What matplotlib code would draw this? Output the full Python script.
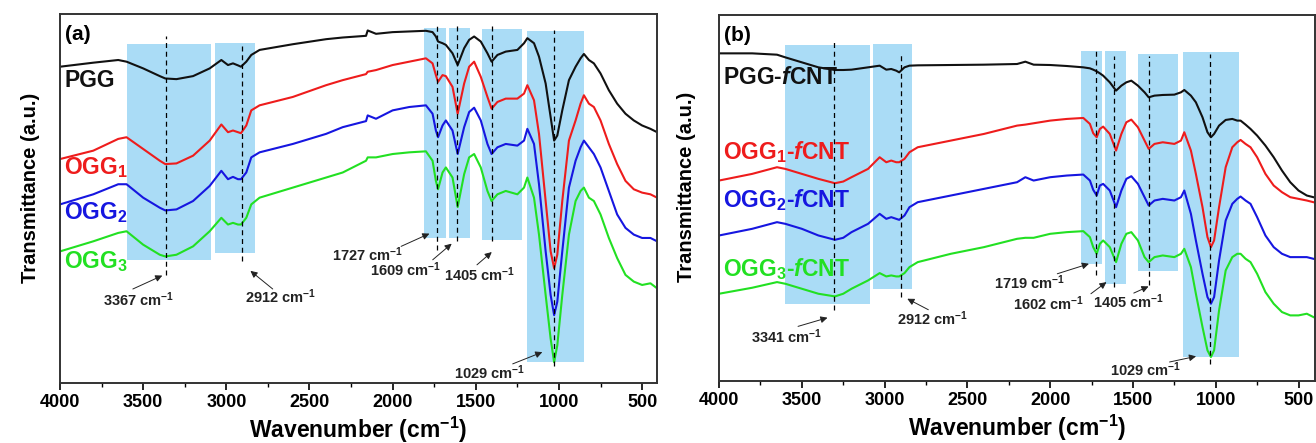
import numpy as np
import matplotlib
matplotlib.use("Agg")
import matplotlib.pyplot as plt
from matplotlib import ticker

plt.rcParams["font.family"] = ["Liberation Sans", "DejaVu Sans"]
plt.rcParams["font.weight"] = "bold"
plt.rcParams["mathtext.fontset"] = "custom"
plt.rcParams["mathtext.rm"] = "Liberation Sans:bold"
plt.rcParams["mathtext.bf"] = "Liberation Sans:bold"
plt.rcParams["mathtext.it"] = "Liberation Sans:italic:bold"

###############################################################################
# Panel (a): PGG and OGG1-3, wavenumber (cm-1) vs transmittance (a.u.)

wn_a = [4000, 3800, 3650, 3600, 3500, 3400, 3367, 3300, 3200, 3100, 3030, 2990,
        2960, 2930, 2912, 2880, 2850, 2800, 2600, 2400, 2300, 2160, 2150, 2100,
        2000, 1900, 1800, 1760, 1740, 1727, 1700, 1680, 1640, 1609, 1570, 1540,
        1510, 1470, 1430, 1405, 1370, 1320, 1250, 1210, 1190, 1150, 1120, 1080,
        1050, 1029, 1010, 980, 940, 900, 870, 850, 820, 790, 750, 700, 650, 600,
        550, 500, 450, 410]

pgg = [95.0, 96.2, 97.0, 96.5, 94.5, 92.2, 91.5, 91.3, 92.2, 94.5, 97.0, 95.5,
       96.0, 95.4, 95.0, 96.5, 98.5, 100.0, 101.7, 103.2, 103.7, 104.2, 105.8,
       104.8, 105.3, 105.5, 105.7, 105.3, 104.0, 102.5, 102.0, 101.5, 99.0, 95.5,
       100.5, 103.0, 104.0, 102.5, 99.0, 96.5, 98.5, 99.5, 100.0, 102.0, 103.5,
       102.0, 98.0, 90.0, 80.0, 73.0, 74.5, 82.0, 91.0, 95.0, 97.5, 98.8, 97.0,
       96.0, 93.0, 88.0, 84.0, 81.0, 79.0, 77.5, 76.5, 75.5]
ogg1 = [67.5, 70.0, 73.5, 74.0, 70.5, 67.0, 66.0, 66.2, 68.5, 73.0, 77.8, 75.5,
        76.0, 75.5, 75.2, 77.5, 82.0, 83.5, 86.0, 89.5, 91.0, 92.8, 93.5, 94.0,
        95.5, 96.5, 97.5, 96.0, 92.5, 90.5, 92.5, 92.2, 89.0, 81.0, 90.0, 95.0,
        96.5, 92.0, 86.0, 82.5, 84.5, 85.5, 85.5, 87.0, 89.5, 85.0, 75.0, 55.0,
        40.0, 35.0, 39.0, 55.0, 73.0, 79.0, 84.0, 86.5, 84.0, 83.0, 79.0, 72.0,
        66.0, 61.0, 58.5, 57.5, 57.0, 56.0]
ogg2 = [54.0, 57.0, 60.0, 60.0, 56.0, 53.0, 52.2, 52.5, 55.0, 59.5, 64.0, 61.5,
        62.2, 61.5, 61.5, 63.5, 68.0, 69.5, 72.0, 75.0, 77.0, 78.8, 80.5, 79.5,
        82.0, 83.0, 83.5, 81.0, 76.0, 74.0, 77.5, 79.0, 76.0, 69.0, 77.0, 81.5,
        82.8, 79.0, 72.0, 69.0, 71.0, 72.0, 71.5, 73.0, 76.5, 72.0, 60.0, 40.0,
        27.0, 21.0, 25.0, 40.0, 59.0, 67.0, 71.0, 73.0, 71.0, 69.0, 65.0, 58.0,
        51.0, 47.0, 45.0, 44.0, 44.0, 43.0]
ogg3 = [40.0, 43.0, 45.5, 46.0, 42.0, 39.0, 38.5, 39.0, 41.5, 46.0, 50.0, 48.0,
        48.5, 48.0, 48.0, 50.0, 54.0, 56.0, 59.0, 62.0, 63.5, 67.0, 68.0, 68.0,
        69.0, 69.5, 69.8, 67.0, 61.0, 58.5, 63.5, 65.0, 62.0, 53.2, 63.0, 68.0,
        69.0, 65.0, 58.0, 55.0, 57.0, 58.0, 57.0, 59.0, 62.0, 56.0, 45.0, 27.0,
        14.0, 7.0, 12.0, 27.0, 45.0, 55.0, 58.0, 59.0, 56.0, 55.0, 51.0, 44.0,
        38.0, 33.0, 31.0, 30.0, 30.5, 29.0]

# shaded bands: (high wn, low wn, bottom, top)
bands_a = [(3600, 3090, 37.5, 101.7), (3068, 2830, 39.5, 102.0),
           (1810, 1678, 44.0, 106.5), (1663, 1536, 44.0, 106.5),
           (1463, 1222, 43.5, 106.2), (1194, 847, 7.2, 105.7)]
# dashed marker lines: (wn, bottom, top)
marks_a = [(3362, 33.0, 104.0), (2903, 37.0, 102.0), (1732, 40.5, 107.5),
           (1612, 43.0, 107.5), (1405, 43.0, 107.0), (1029, 6.0, 106.0)]
# peak labels: text, text pos, arrow tail, arrow head
peaks_a = [("3367", (3530, 25.5), (3562, 28.8), (3385, 32.8)),
           ("2912", (2671, 26.5), (2721, 28.8), (2855, 34.2)),
           ("1727", (2150, 39.0), (1949, 41.5), (1779, 45.3)),
           ("1609", (1923, 34.5), (1759, 37.5), (1645, 42.3)),
           ("1405", (1480, 33.0), (1493, 36.0), (1404, 39.8)),
           ("1029", (1417, 4.0), (1278, 6.5), (1100, 10.0))]
names_a = ["PGG", "OGG$_1$", "OGG$_2$", "OGG$_3$"]
name_y_a = [91.0, 65.0, 51.5, 37.0]

###############################################################################
# Panel (b): the fCNT composites

wn_b = [4000, 3800, 3650, 3600, 3500, 3400, 3300, 3250, 3200, 3100, 3030, 2990,
        2960, 2930, 2912, 2880, 2850, 2800, 2600, 2400, 2200, 2150, 2100, 2000,
        1900, 1800, 1760, 1740, 1719, 1700, 1680, 1640, 1602, 1570, 1540, 1510,
        1470, 1430, 1405, 1370, 1320, 1250, 1210, 1190, 1150, 1120, 1080, 1050,
        1029, 1010, 980, 940, 900, 870, 850, 820, 790, 750, 700, 650, 600, 550,
        500, 450, 410]

pgg_f = [99.2, 99.2, 98.8, 98.0, 96.5, 95.0, 94.2, 94.2, 94.3, 95.0, 95.5, 94.3,
         94.5, 94.0, 93.5, 95.0, 95.5, 95.6, 95.7, 95.8, 96.0, 96.7, 95.8, 95.7,
         95.4, 95.0, 94.7, 94.3, 93.8, 93.2, 92.5, 90.5, 88.0, 89.5, 90.5, 91.0,
         89.5, 87.5, 86.0, 86.5, 86.7, 86.8, 87.5, 88.2, 86.5, 84.5, 80.0, 75.5,
         74.0, 75.0, 77.5, 79.2, 79.5, 79.0, 79.0, 77.8, 76.5, 74.5, 71.5, 68.0,
         64.0, 60.5, 58.0, 56.5, 56.0]
ogg1_f = [61.0, 63.0, 65.0, 64.5, 63.0, 61.5, 60.2, 60.7, 62.0, 64.5, 68.0, 66.5,
          67.0, 66.5, 66.5, 67.5, 69.5, 71.0, 73.0, 75.0, 77.5, 77.8, 78.2, 79.0,
          79.5, 79.8, 78.0, 75.2, 74.0, 76.5, 77.2, 75.0, 70.0, 75.0, 78.5, 79.3,
          77.0, 73.0, 70.5, 72.0, 72.5, 72.0, 73.0, 75.5, 70.0, 63.0, 53.0, 44.0,
          41.0, 43.0, 53.0, 65.0, 71.0, 72.5, 73.2, 72.0, 71.0, 68.0, 63.0, 59.5,
          57.5, 56.0, 55.5, 55.0, 54.5]
ogg2_f = [44.5, 46.5, 48.5, 48.0, 46.5, 44.5, 43.2, 43.8, 45.5, 48.0, 51.0, 49.5,
          50.0, 49.5, 49.2, 50.5, 53.0, 54.5, 56.5, 58.5, 60.5, 62.0, 61.0, 62.0,
          62.5, 62.8, 61.0, 58.2, 56.5, 59.5, 60.0, 58.0, 53.0, 58.0, 61.5, 62.3,
          60.0, 56.0, 53.5, 55.0, 55.5, 55.0, 56.0, 58.0, 51.0, 43.0, 33.0, 26.0,
          24.0, 26.0, 37.0, 49.0, 54.0, 55.5, 56.2, 55.0, 54.0, 50.0, 44.5, 41.0,
          39.0, 38.0, 38.0, 38.0, 37.5]
ogg3_f = [27.0, 28.8, 30.5, 30.0, 28.5, 27.0, 26.2, 27.0, 28.5, 31.0, 33.2, 32.2,
          32.5, 32.2, 32.2, 33.2, 35.0, 36.5, 39.0, 41.0, 43.5, 43.8, 43.8, 45.0,
          45.5, 45.8, 44.0, 41.0, 39.0, 42.0, 43.0, 41.0, 36.5, 42.0, 45.0, 45.5,
          43.0, 38.0, 36.5, 38.0, 38.5, 38.0, 39.0, 40.5, 35.0, 27.0, 17.0, 10.0,
          8.0, 10.0, 22.0, 34.0, 38.0, 39.0, 39.0, 37.5, 36.5, 33.0, 27.5, 24.0,
          21.5, 20.5, 20.5, 21.0, 20.0]

bands_b = [(3604, 3091, 23.8, 101.7), (3071, 2832, 28.5, 102.0),
           (1812, 1685, 36.0, 100.0), (1670, 1543, 29.8, 99.8),
           (1470, 1228, 33.7, 99.0), (1200, 858, 8.0, 99.5)]
marks_b = [(3305, 22.0, 103.0), (2901, 26.0, 99.5), (1726, 32.5, 100.2),
           (1614, 29.0, 98.5), (1404, 29.5, 98.5), (1036, 6.0, 99.0)]
peaks_b = [("3341", (3589, 14.0), (3523, 17.2), (3345, 19.8)),
           ("2912", (2713, 19.5), (2736, 22.2), (2863, 25.5)),
           ("1719", (2122, 30.2), (1957, 33.0), (1766, 36.0)),
           ("1602", (2008, 24.0), (1754, 27.0), (1660, 30.5)),
           ("1405", (1525, 24.5), (1495, 27.2), (1406, 29.2)),
           ("1029", (1424, 4.2), (1279, 6.5), (1119, 8.2))]
names_b = ["PGG-$\\mathit{f}$CNT", "OGG$_1$-$\\mathit{f}$CNT",
           "OGG$_2$-$\\mathit{f}$CNT", "OGG$_3$-$\\mathit{f}$CNT"]
name_y_b = [91.8, 69.5, 55.0, 34.5]

colors = ["#111111", "#ee1c1c", "#1616e0", "#22e022"]
band_color = "#aadcf6"

fig = plt.figure(figsize=(13.16, 4.43), dpi=100)
ax_a = fig.add_axes([0.0456, 0.1354, 0.4537, 0.833])
ax_b = fig.add_axes([0.5464, 0.140, 0.4529, 0.826])


def draw_panel(ax, wn, curves, bands, marks, peaks, names, name_y, tag, xmin,
               ylabel_x):
    for hi, lo, bot, top in bands:
        ax.fill_between([lo, hi], bot, top, color=band_color, lw=0, zorder=0)
    for x, bot, top in marks:
        ax.vlines(x, bot, top, colors="k", linestyles=(0, (4, 3)), lw=0.9,
                  zorder=3)
    for y, c in zip(curves, colors):
        ax.plot(wn, y, color=c, lw=1.5, zorder=2)
    for txt, pos, tail, head in peaks:
        ax.text(pos[0], pos[1], txt + " cm$^{-1}$", ha="center", va="center",
                fontsize=10.5, color="#222222")
        ax.annotate("", xy=head, xytext=tail,
                    arrowprops=dict(arrowstyle="-|>", color="#222222", lw=0.7,
                                    mutation_scale=10, shrinkA=0, shrinkB=0))
    for name, y, c in zip(names, name_y, colors):
        ax.text(3975, y, name, color=c, fontsize=16.5, fontweight="bold",
                ha="left", va="center", zorder=4)
    ax.text(0.008, 0.97, tag, transform=ax.transAxes, fontsize=15,
            fontweight="bold", ha="left", va="top")

    ax.set_xlim(4000, xmin)
    ax.set_ylim(0.8, 110.7)
    ax.xaxis.set_major_locator(ticker.MultipleLocator(500))
    ax.xaxis.set_minor_locator(ticker.MultipleLocator(250))
    ax.set_yticks([])
    ax.tick_params(axis="x", which="major", length=5, width=1.2, labelsize=13,
                   pad=3)
    ax.tick_params(axis="x", which="minor", length=3, width=1.0)
    for lab in ax.get_xticklabels():
        lab.set_fontweight("bold")
    for s in ax.spines.values():
        s.set_linewidth(1.4)
        s.set_color("#333333")
    ax.set_xlabel("Wavenumber (cm$^{-1}$)", fontsize=16.5, fontweight="bold",
                  labelpad=3)
    ax.set_ylabel("Transmittance (a.u.)", fontsize=14.5, fontweight="bold")
    ax.yaxis.set_label_coords(ylabel_x, 0.53)


draw_panel(ax_a, wn_a, [pgg, ogg1, ogg2, ogg3], bands_a, marks_a, peaks_a,
           names_a, name_y_a, "(a)", 410, -0.034)
draw_panel(ax_b, wn_b, [pgg_f, ogg1_f, ogg2_f, ogg3_f], bands_b, marks_b,
           peaks_b, names_b, name_y_b, "(b)", 400, -0.038)

fig.savefig("out.png", dpi=100)
